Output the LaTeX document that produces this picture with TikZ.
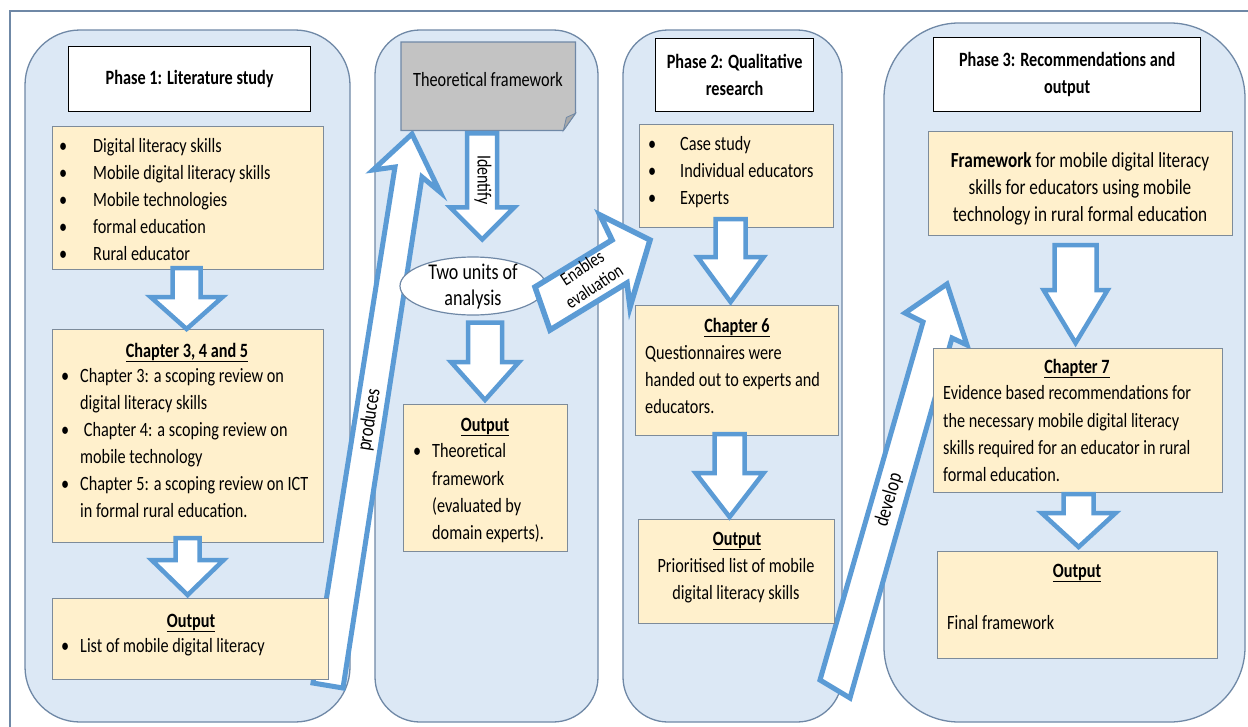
\documentclass[tikz,border=0pt]{standalone}
\usepackage{fontspec}
\setmainfont{Carlito}[FakeStretch=0.8]
\usetikzlibrary{calc,shapes.geometric}

\definecolor{panelfill}{HTML}{DCE8F5}
\definecolor{panelline}{HTML}{6F88A6}
\definecolor{boxfill}{HTML}{FFF0CC}
\definecolor{boxline}{HTML}{7D8B9A}
\definecolor{arrowblue}{HTML}{5B9BD5}
\definecolor{docgray}{HTML}{C3C3C3}
\definecolor{docfold}{HTML}{A9A9A9}

% bullet with a fixed indent, and a strut fixing the top of a first line
\newcommand\bul[1][34pt]{\makebox[#1][l]{•}}
\newcommand\firstln{\rule{0pt}{16.5pt}}

\tikzset{
  panel/.style={draw=panelline, line width=1.3pt, fill=panelfill},
  ybox/.style={draw=boxline, line width=1.2pt, fill=boxfill, inner sep=0pt, anchor=north west},
  titlebox/.style={draw=black, line width=1.3pt, fill=white, inner sep=0pt, anchor=north west,
    align=center, font=\fontsize{20.3}{27}\selectfont\bfseries},
  txt/.style={font=\fontsize{20.3}{27}\selectfont, inner sep=0pt, align=left, anchor=north west},
  ctxt/.style={font=\fontsize{20.3}{27}\selectfont, inner sep=0pt, align=center, anchor=north},
  head/.style={font=\fontsize{20.3}{27}\selectfont\bfseries, inner sep=0pt, anchor=base},
  lbl/.style={font=\fontsize{21}{24}\selectfont, inner sep=0pt},
  blk/.style={draw=arrowblue, line width=4.5pt, fill=white, line join=miter},
  blockdown/.style n args={3}{to path={let \p1=(\tikztostart), \p2=(\tikztotarget) in
    (\x1-#1,\y1) -- (\x1-#1,\y2+#3) -- (\x1-#2,\y2+#3) -- (\x1,\y2)
    -- (\x1+#2,\y2+#3) -- (\x1+#1,\y2+#3) -- (\x1+#1,\y1) -- cycle}},
}

\begin{document}
\begin{tikzpicture}[x=1pt,y=-1pt]
\clip (0,0) rectangle (1248,726);
\fill[white] (0,0) rectangle (1248,726);

% outer frame
\draw[panelline, line width=1.2pt] (10,800) -- (10,11) -- (1300,11);

% phase panels
\draw[panel, rounded corners=55pt] (25,30) rectangle (350,722);
\draw[panel, rounded corners=45pt] (375,30) rectangle (598,722);
\draw[panel, rounded corners=45pt] (623,30) rectangle (842,722);
\draw[panel, rounded corners=75pt] (884,23) rectangle (1245,722);

% long slanted arrows, running beneath the boxes
\draw[blk, line width=5pt] (313,683) -- (395,167) -- (373,170) -- (412,134)
  -- (440,192) -- (422,177) -- (343,688) -- cycle;
\node[lbl, rotate=81.2] (produces) at (369.5,420) {produces};

\draw[blk, line width=5pt] (820,680) -- (923,322) -- (905,313) -- (947,284)
  -- (967,345) -- (952,338) -- (850,698) -- cycle;
\node[lbl, rotate=73.9] (develop) at (889,500) {develop};

% phase titles
\node[titlebox, minimum width=242, minimum height=65] (t1) at (68,46) {Phase 1: Literature study};
\node[titlebox, minimum width=158, minimum height=73] (t2) at (655,38) {Phase 2: Qualitative\\research};
\node[titlebox, minimum width=267, minimum height=74] (t3) at (933,37) {Phase 3: Recommendations and\\output};

% theoretical framework document
\node[inner sep=0pt, minimum width=174, minimum height=88, anchor=north west] (doc) at (401,42) {};
\draw[panelline, line width=1.2pt, fill=docgray] (doc.north west) -- (doc.north east)
  -- ([yshift=17pt]doc.south east) -- ([xshift=-12pt]doc.south east) -- (doc.south west) -- cycle;
\draw[panelline, line width=0.8pt, fill=docfold] ([yshift=17pt]doc.south east)
  -- ([xshift=-12pt]doc.south east) -- ([xshift=-9pt,yshift=13pt]doc.south east) -- cycle;
\node[lbl, font=\fontsize{20.3}{24}\selectfont, anchor=base] (doct) at (488,86) {Theoretical framework};

% unit of analysis
\node[draw=panelline, line width=1.2pt, fill=white, ellipse, inner sep=0pt,
  minimum width=146, minimum height=58] (ell) at (473,286) {};
\node[ctxt, font=\fontsize{22.5}{26}\selectfont] (ellt) at (473,261) {\rule{0pt}{18pt}Two units of\\analysis};

% content boxes
\node[ybox, minimum width=271, minimum height=143] (b1) at (52,126) {};
\node[ybox, minimum width=271, minimum height=213] (b2) at (52,329) {};
\node[ybox, minimum width=276, minimum height=81] (b3) at (52,598) {};
\node[ybox, minimum width=164, minimum height=147] (b4) at (403,404) {};
\node[ybox, minimum width=194, minimum height=103] (b5) at (639,124) {};
\node[ybox, minimum width=203, minimum height=130] (b6) at (635,305) {};
\node[ybox, minimum width=196, minimum height=104] (b7) at (638,519) {};
\node[ybox, minimum width=304, minimum height=104] (b8) at (928,131) {};
\node[ybox, minimum width=289, minimum height=144] (b9) at (933,348) {};
\node[ybox, minimum width=280, minimum height=107] (b10) at (937,551) {};

% box texts
\node[txt] (b1t) at (59,136) {\firstln\bul Digital literacy skills\\\bul Mobile digital literacy skills\\
  \bul Mobile technologies\\\bul formal education\\\bul Rural educator};

\node[head] (b2h) at (187,357) {\underline{Chapter 3, 4 and 5}};
\node[txt] (b2t) at (61,366) {\firstln\bul[19pt]Chapter 3: a scoping review on\\
  \hspace*{19pt}digital literacy skills\\
  \bul[19pt]\ Chapter 4: a scoping review on\\
  \hspace*{19pt}mobile technology\\
  \bul[19pt]Chapter 5: a scoping review on ICT\\
  \hspace*{19pt}in formal rural education.};

\node[head] (b3h) at (191,627) {\underline{Output}};
\node[txt] (b3t) at (61,636) {\firstln\bul[19pt]List of mobile digital literacy};

\node[head] (b4h) at (485,431) {\underline{Output}};
\node[txt, font=\fontsize{20.3}{27.3}\selectfont] (b4t) at (413,441) {\firstln\bul[19pt]Theoretical\\
  \hspace*{19pt}framework\\\hspace*{19pt}(evaluated by\\\hspace*{19pt}domain experts).};

\node[txt] (b5t) at (648,134) {\firstln\bul[32pt]Case study\\\bul[32pt]Individual educators\\\bul[32pt]Experts};

\node[head] (b6h) at (737,332) {\underline{Chapter 6}};
\node[txt] (b6t) at (645,343) {\firstln Questionnaires were\\handed out to experts and\\educators.};

\node[head] (b7h) at (737,545) {\underline{Output}};
\node[ctxt] (b7t) at (736,556) {\firstln Prioritised list of mobile\\digital literacy skills};

\node[ctxt, font=\fontsize{21.5}{27}\selectfont] (b8t) at (1080,151)
  {\firstln\textbf{Framework} for mobile digital literacy\\skills for educators using mobile\\technology in rural formal education};

\node[head] (b9h) at (1077,373) {\underline{Chapter 7}};
\node[txt, font=\fontsize{20.3}{27.3}\selectfont] (b9t) at (943,383) {\firstln Evidence based recommendations for\\
  the necessary mobile digital literacy\\skills required for an educator in rural\\formal education.};

\node[head] (b10h) at (1077,577) {\underline{Output}};
\node[txt, anchor=base west] (b10t) at (947,629.5) {Final framework};

% evaluation arrow from the units of analysis into phase 2
\draw[blk, line width=5.5pt] (535,287) -- (612,240) -- (600,215) -- (650,240)
  -- (630,307) -- (627,283) -- (550,330) -- cycle;
\node[lbl, font=\fontsize{19}{22}\selectfont, align=center, rotate=33] (enab) at (588,277) {Enables\\evaluation};

% block arrows between boxes
\draw[blk, blockdown={14pt}{36pt}{32pt}] ([xshift=-1.5pt,yshift=2pt]b1.south) to (b2.north);
\draw[blk, blockdown={12pt}{36pt}{35pt}] ([xshift=-0.5pt,yshift=5pt]b2.south) to ([yshift=3pt]b3.north);
\draw[blk, blockdown={15pt}{32pt}{32pt}] ([xshift=-6pt,yshift=-3pt]doc.south) to ([yshift=17pt]ell.north);
\node[lbl, font=\fontsize{20}{22}\selectfont, rotate=-90] (ident) at (483,180) {Identify};
\draw[blk, blockdown={17pt}{34pt}{38pt}] ([xshift=12pt,yshift=-7pt]ell.south) to ([yshift=4pt]b4.north);
\draw[blk, blockdown={15pt}{33pt}{45pt}] ([xshift=-6pt,yshift=9pt]b5.south) to ([yshift=3pt]b6.north);
\draw[blk, blockdown={15pt}{34pt}{44pt}] ([xshift=-7.5pt,yshift=2pt]b6.south) to ([yshift=2pt]b7.north);
\draw[blk, blockdown={21pt}{32pt}{53pt}] ([xshift=-5pt,yshift=-9pt]b8.south) to ([yshift=5pt]b9.north);
\draw[blk, blockdown={15pt}{37pt}{34pt}] ([xshift=0.5pt,yshift=-1pt]b9.south) to ([yshift=4pt]b10.north);

\end{tikzpicture}
\end{document}
